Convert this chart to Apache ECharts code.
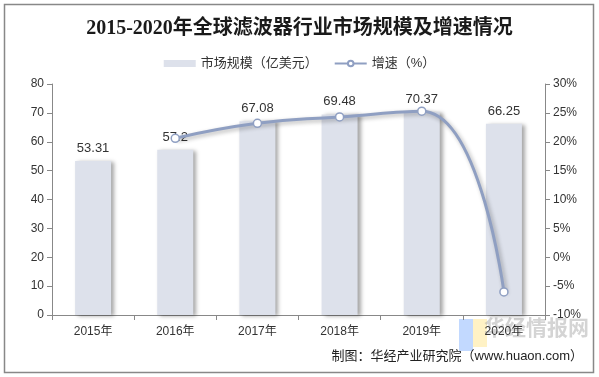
<!DOCTYPE html>
<html>
<head>
<meta charset="utf-8">
<script src="https://cdn.jsdelivr.net/npm/echarts@6/dist/echarts.min.js"></script>
<style>
  html, body { margin: 0; padding: 0; background: #fff; }
  #chart { width: 599px; height: 377px; }
</style>
</head>
<body>
<div id="chart"></div>
<script>
const years = ['2015年', '2016年', '2017年', '2018年', '2019年', '2020年'];
const marketSize = [53.31, 57.2, 67.08, 69.48, 70.37, 66.25];
const growthRate = [null, 20.6, 23.2, 24.3, 25.3, -6.0];

const cjk = "'Liberation Sans', 'Noto Sans CJK SC', sans-serif";

const chart = echarts.init(document.getElementById('chart'));

const option = {
  backgroundColor: '#fff',
  animation: false,
  title: {
    text: '2015-2020年全球滤波器行业市场规模及增速情况',
    left: 'center',
    top: 14,
    textStyle: {
      fontFamily: "'Liberation Serif', 'Noto Sans CJK SC', serif",
      fontSize: 20,
      fontWeight: 'bold',
      color: '#1a1a1a'
    }
  },
  legend: {
    top: 52,
    left: 'center',
    itemGap: 16,
    itemWidth: 32,
    itemHeight: 7,
    textStyle: { fontFamily: cjk, fontSize: 13, color: '#333' },
    data: [
      { name: '市场规模（亿美元）', icon: 'rect' },
      { name: '增速（%）' }
    ]
  },
  grid: { left: 52, right: 54, top: 84, bottom: 62 },
  xAxis: {
    type: 'category',
    data: years,
    axisLine: { lineStyle: { color: '#888' } },
    axisTick: { show: true, lineStyle: { color: '#888' } },
    axisLabel: { fontFamily: cjk, fontSize: 12, color: '#333', margin: 11 }
  },
  yAxis: [
    {
      type: 'value',
      min: 0, max: 80, interval: 10,
      axisLine: { show: true, lineStyle: { color: '#888' } },
      axisTick: { show: true, lineStyle: { color: '#888' } },
      axisLabel: { fontFamily: cjk, fontSize: 12, color: '#333' },
      splitLine: { show: false }
    },
    {
      type: 'value',
      min: -10, max: 30, interval: 5,
      axisLine: { show: true, lineStyle: { color: '#888' } },
      axisTick: { show: true, lineStyle: { color: '#888' } },
      axisLabel: { fontFamily: cjk, fontSize: 12, color: '#333', formatter: '{value}%' },
      splitLine: { show: false }
    }
  ],
  series: [
    {
      name: '市场规模（亿美元）',
      type: 'bar',
      data: marketSize,
      barWidth: 36,
      itemStyle: {
        color: '#dde1eb',
        shadowColor: 'rgba(0,0,0,0.35)',
        shadowBlur: 4,
        shadowOffsetX: 3,
        shadowOffsetY: 1
      },
      label: {
        show: true,
        position: 'top',
        distance: 6,
        fontFamily: cjk,
        fontSize: 13,
        color: '#333'
      }
    },
    {
      name: '增速（%）',
      type: 'line',
      yAxisIndex: 1,
      data: growthRate,
      smooth: 0.5,
      symbol: 'circle',
      symbolSize: 8,
      lineStyle: {
        color: '#8f9fc2',
        width: 3,
        shadowColor: 'rgba(0,0,0,0.3)',
        shadowBlur: 4,
        shadowOffsetX: 2,
        shadowOffsetY: 2
      },
      itemStyle: {
        color: '#fff',
        borderColor: '#8f9fc2',
        borderWidth: 1.5
      }
    }
  ],
  graphic: [
    {
      type: 'rect',
      shape: { x: 4.5, y: 4.5, width: 589, height: 368 },
      style: { fill: 'none', stroke: '#888', lineWidth: 1.5 },
      silent: true
    },
    {
      type: 'rect',
      shape: { x: 459, y: 319, width: 14, height: 32 },
      style: { fill: 'rgba(120,170,255,0.45)' },
      silent: true
    },
    {
      type: 'rect',
      shape: { x: 473, y: 319, width: 14, height: 28 },
      style: { fill: 'rgba(255,230,140,0.5)' },
      silent: true
    },
    {
      type: 'text',
      left: 484,
      top: 317,
      style: {
        text: '华经情报网',
        font: 'bold 21px "Noto Sans CJK SC"',
        fill: 'rgba(170,170,170,0.5)'
      },
      silent: true
    },
    {
      type: 'text',
      right: 16,
      top: 350,
      style: {
        text: '制图：华经产业研究院（www.huaon.com）',
        font: '13px ' + cjk,
        fill: '#222'
      }
    }
  ]
};

chart.setOption(option);
</script>
</body>
</html>
